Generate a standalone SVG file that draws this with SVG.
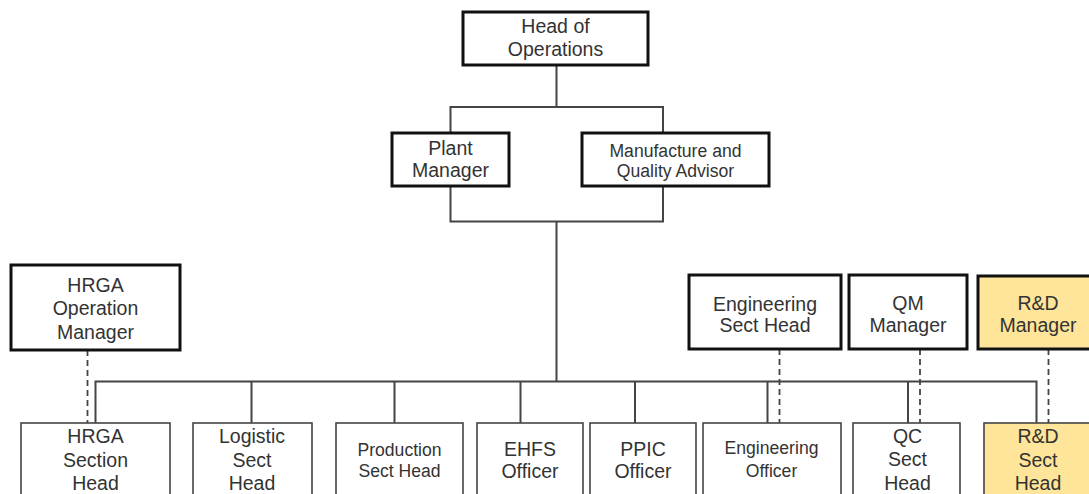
<svg xmlns="http://www.w3.org/2000/svg" width="1089" height="494" viewBox="0 0 1089 494">
<style>
.thick{fill:#fff;stroke:#111;stroke-width:3}
.thin{fill:#fff;stroke:#444;stroke-width:1.6}
.yel{fill:#FFE599}
text{font-family:"Liberation Sans",Arial,sans-serif;fill:#333;text-anchor:middle}
.b{font-size:19.5px}
.s{font-size:17.6px}
.ln{fill:none;stroke:#444;stroke-width:2}
.dl{fill:none;stroke:#444;stroke-width:1.8;stroke-dasharray:6 4}
</style>
<rect width="1089" height="494" fill="#fff"/>
<g id="connectors">
<path class="ln" d="M556.5 65V107M450.5 133V107H663V133"/>
<path class="ln" d="M450.5 186V221.5H663V186M556.5 221.5V381.5"/>
<path class="ln" d="M95.5 423V381.5H1036.5V423M251.5 381.5V423M394.5 381.5V423M520.5 381.5V423M635 381.5V423M767.5 381.5V423M908 381.5V423"/>
<path class="dl" d="M87.5 350V423M779.5 349V423M920 349V423M1048.5 349V423"/>
</g>
<g id="head"><rect class="thick" x="463" y="12" width="185" height="53"/><text class="b" x="555.5" y="33">Head of</text><text class="b" x="555.5" y="56">Operations</text></g>
<g id="plant"><rect class="thick" x="392" y="133" width="117" height="53"/><text class="b" x="450.5" y="154.5">Plant</text><text class="b" x="450.5" y="176.5">Manager</text></g>
<g id="mqa"><rect class="thick" x="582" y="133" width="187" height="53"/><text class="s" x="675.5" y="156.5">Manufacture and</text><text class="s" x="675.5" y="176.5">Quality Advisor</text></g>
<g id="hrgaop"><rect class="thick" x="11" y="265" width="169" height="85"/><text class="b" x="95.5" y="291.5">HRGA</text><text class="b" x="95.5" y="315">Operation</text><text class="b" x="95.5" y="338.5">Manager</text></g>
<g id="engsh"><rect class="thick" x="689" y="275" width="152" height="74"/><text class="b" x="765" y="311">Engineering</text><text class="b" x="765" y="332">Sect Head</text></g>
<g id="qm"><rect class="thick" x="849" y="275" width="118" height="74"/><text class="b" x="908" y="310">QM</text><text class="b" x="908" y="332">Manager</text></g>
<g id="rdm"><rect class="thick yel" x="978" y="276" width="120" height="73"/><text class="b" x="1038" y="310">R&amp;D</text><text class="b" x="1038" y="332">Manager</text></g>
<g id="hrgash"><rect class="thin" x="21" y="423" width="149" height="80"/><text class="b" x="95.5" y="443">HRGA</text><text class="b" x="95.5" y="466.5">Section</text><text class="b" x="95.5" y="490">Head</text></g>
<g id="logistic"><rect class="thin" x="193" y="423" width="119" height="80"/><text class="b" x="252" y="443">Logistic</text><text class="b" x="252" y="466.5">Sect</text><text class="b" x="252" y="490">Head</text></g>
<g id="production"><rect class="thin" x="336" y="423" width="127" height="80"/><text class="s" x="399.5" y="455.5">Production</text><text class="s" x="399.5" y="476.5">Sect Head</text></g>
<g id="ehfs"><rect class="thin" x="477" y="423" width="106" height="80"/><text class="b" x="530" y="455.5">EHFS</text><text class="b" x="530" y="478">Officer</text></g>
<g id="ppic"><rect class="thin" x="590" y="423" width="106" height="80"/><text class="b" x="643" y="456">PPIC</text><text class="b" x="643" y="478">Officer</text></g>
<g id="engoff"><rect class="thin" x="703" y="423" width="138" height="80"/><text class="s" x="771.5" y="454">Engineering</text><text class="s" x="771.5" y="476.5">Officer</text></g>
<g id="qc"><rect class="thin" x="853" y="423" width="107" height="80"/><text class="b" x="907.5" y="442.5">QC</text><text class="b" x="907.5" y="466">Sect</text><text class="b" x="907.5" y="489.5">Head</text></g>
<g id="rdsh"><rect class="thin yel" x="984" y="423" width="110" height="80"/><text class="b" x="1038" y="443">R&amp;D</text><text class="b" x="1038" y="466.5">Sect</text><text class="b" x="1038" y="490">Head</text></g>
</svg>
